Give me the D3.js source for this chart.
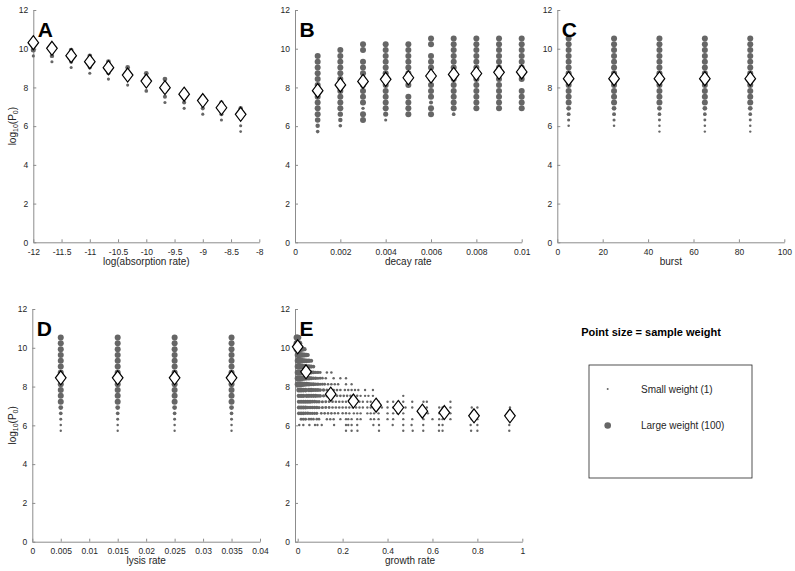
<!DOCTYPE html>
<html>
<head>
<meta charset="utf-8">
<script src="https://cdn.jsdelivr.net/npm/d3@7"></script>
<style>
body { margin: 0; background: #fff; }
text { font-family: "Liberation Sans", Arial, Helvetica, sans-serif; }
</style>
</head>
<body>
<div id="chart"></div>
<script>
// discrete log10(P0) levels used by all the samples
const levels = [5.72, 6.02, 6.32, 6.62, 6.92, 7.22, 7.52, 7.82, 8.12, 8.43, 8.73, 9.03, 9.33, 9.63, 9.93, 10.23, 10.53];
const yTicks = [0, 2, 4, 6, 8, 10, 12];

// A: log(absorption rate)
const aX = [-12, -11.67, -11.33, -11, -10.67, -10.33, -10, -9.67, -9.33, -9, -8.67, -8.33];
const aMean = [10.31, 10.02, 9.64, 9.33, 9.02, 8.64, 8.33, 7.99, 7.65, 7.32, 6.95, 6.61];
const aDots = [
    [-12, 9.93, 60], [-12, 9.63, 10],
    [-11.67, 9.63, 40], [-11.67, 9.33, 10],
    [-11.33, 9.93, 50], [-11.33, 9.33, 30], [-11.33, 9.03, 10],
    [-11, 9.63, 50], [-11, 9.03, 30], [-11, 8.73, 10],
    [-10.67, 9.33, 50], [-10.67, 8.73, 30], [-10.67, 8.43, 10],
    [-10.33, 9.03, 50], [-10.33, 8.43, 30], [-10.33, 8.12, 10],
    [-10, 8.73, 50], [-10, 8.12, 30], [-10, 7.82, 20],
    [-9.67, 8.43, 50], [-9.67, 7.52, 30], [-9.67, 7.22, 10],
    [-9.33, 7.82, 40], [-9.33, 7.22, 30], [-9.33, 6.92, 10],
    [-9, 7.52, 40], [-9, 6.92, 30], [-9, 6.62, 10],
    [-8.67, 7.22, 40], [-8.67, 6.62, 30], [-8.67, 6.32, 10],
    [-8.33, 6.92, 40], [-8.33, 6.02, 10], [-8.33, 5.72, 5]
];

// B: decay rate (weights per level, bottom to top)
const bX = [0.001, 0.002, 0.003, 0.004, 0.005, 0.006, 0.007, 0.008, 0.009, 0.01];
const bMean = [7.83, 8.13, 8.31, 8.42, 8.5, 8.59, 8.67, 8.72, 8.78, 8.8];
const bWeights = [
    [20, 40, 80, 100, 100, 100, 100, 100, 100, 100, 100, 100, 100, 100, 0, 0, 0],
    [0, 20, 40, 70, 100, 100, 100, 100, 100, 100, 100, 100, 100, 100, 100, 0, 0],
    [0, 0, 100, 100, 15, 100, 100, 100, 100, 100, 100, 100, 100, 0, 100, 100, 0],
    [0, 0, 10, 60, 100, 100, 100, 100, 100, 100, 100, 100, 100, 100, 100, 100, 0],
    [0, 0, 0, 100, 100, 100, 100, 0, 100, 100, 100, 100, 100, 100, 100, 100, 0],
    [0, 0, 0, 100, 100, 30, 100, 100, 100, 100, 100, 100, 100, 100, 0, 100, 100],
    [0, 0, 0, 20, 100, 100, 100, 100, 100, 100, 100, 100, 100, 100, 100, 100, 100],
    [0, 0, 0, 0, 100, 100, 100, 100, 100, 100, 100, 100, 100, 100, 100, 100, 100],
    [0, 0, 0, 0, 100, 100, 100, 100, 100, 100, 100, 100, 100, 100, 100, 100, 100],
    [0, 0, 0, 0, 100, 100, 100, 100, 0, 100, 100, 100, 100, 100, 100, 100, 100]
];

// C: burst
const cX = [5, 25, 45, 65, 85];
const cMean = [8.45, 8.45, 8.45, 8.45, 8.45];
const cWeights = [
    [0, 3, 10, 25, 50, 100, 100, 100, 100, 100, 100, 100, 100, 100, 100, 100, 100],
    [0, 3, 10, 25, 50, 100, 100, 100, 100, 100, 100, 100, 100, 100, 100, 100, 100],
    [2, 3, 8, 20, 50, 100, 100, 100, 100, 100, 100, 100, 100, 100, 100, 100, 100],
    [2, 3, 8, 20, 50, 100, 100, 100, 100, 100, 100, 100, 100, 100, 100, 100, 100],
    [2, 3, 8, 20, 50, 100, 100, 100, 100, 100, 100, 100, 100, 100, 100, 100, 100]
];

// D: lysis rate
const dX = [0.005, 0.015, 0.025, 0.035];
const dMean = [8.45, 8.45, 8.45, 8.45];
const dWeights = [
    [2, 3, 8, 20, 50, 100, 100, 100, 100, 100, 100, 100, 100, 100, 100, 100, 100],
    [2, 3, 8, 20, 50, 100, 100, 100, 100, 100, 100, 100, 100, 100, 100, 100, 100],
    [2, 3, 8, 20, 50, 100, 100, 100, 100, 100, 100, 100, 100, 100, 100, 100, 100],
    [2, 3, 8, 20, 50, 100, 100, 100, 100, 100, 100, 100, 100, 100, 100, 100, 100]
];

// E: growth rate, rows of [x, weight] per level index
const eMeanX = [0.0, 0.037, 0.147, 0.248, 0.349, 0.448, 0.555, 0.653, 0.785, 0.945];
const eMeanY = [10.05, 8.76, 7.61, 7.25, 7.04, 6.92, 6.73, 6.66, 6.49, 6.49];
const eRows = [
    [16, [[-0.005, 100], [0.0, 100], [0.005, 60]]],
    [15, [[-0.005, 100], [0.0, 100], [0.005, 100], [0.01, 50]]],
    [14, [[-0.005, 100], [0.0, 100], [0.005, 100], [0.01, 100], [0.02, 60], [0.03, 40]]],
    [13, [[0.0, 100], [0.005, 100], [0.01, 100], [0.02, 80], [0.03, 60], [0.04, 40], [0.045, 30]]],
    [12, [[0.0, 100], [0.005, 100], [0.01, 100], [0.02, 80], [0.03, 60], [0.04, 50], [0.05, 40], [0.06, 30]]],
    [11, [[0.0, 100], [0.005, 100], [0.01, 100], [0.02, 80], [0.03, 60], [0.04, 50], [0.05, 40], [0.06, 30], [0.07, 20]]],
    [10, [[0.0, 100], [0.01, 100], [0.02, 80], [0.03, 60], [0.04, 50], [0.05, 40], [0.06, 30], [0.07, 20], [0.08, 15], [0.09, 10], [0.1, 8], [0.13, 3], [0.15, 3]]],
    [9, [[0.0, 100], [0.01, 100], [0.02, 80], [0.03, 60], [0.04, 50], [0.05, 40], [0.06, 30], [0.07, 20], [0.08, 15], [0.09, 10], [0.1, 8], [0.11, 5], [0.125, 4], [0.16, 3], [0.19, 2], [0.215, 2]]],
    [8, [[0.0, 100], [0.01, 100], [0.02, 80], [0.03, 60], [0.04, 50], [0.05, 40], [0.06, 30], [0.07, 25], [0.08, 20], [0.09, 15], [0.1, 10], [0.11, 8], [0.12, 6], [0.135, 5], [0.15, 4], [0.165, 3], [0.18, 3], [0.215, 2], [0.24, 2]]],
    [7, [[0.005, 60], [0.015, 60], [0.025, 50], [0.035, 50], [0.05, 40], [0.06, 40], [0.07, 30], [0.08, 30], [0.09, 25], [0.1, 20], [0.115, 15], [0.13, 10], [0.145, 8], [0.16, 6], [0.175, 5], [0.19, 4], [0.21, 3], [0.225, 3], [0.24, 3], [0.255, 2], [0.27, 2], [0.3, 2], [0.335, 2]]],
    [6, [[0.005, 40], [0.015, 40], [0.025, 40], [0.04, 40], [0.05, 35], [0.06, 35], [0.07, 30], [0.08, 30], [0.09, 25], [0.1, 20], [0.115, 15], [0.13, 12], [0.145, 10], [0.16, 8], [0.175, 6], [0.19, 5], [0.205, 4], [0.22, 4], [0.235, 3], [0.25, 3], [0.265, 3], [0.28, 2], [0.3, 2], [0.315, 2], [0.335, 2], [0.47, 2]]],
    [5, [[0.005, 30], [0.015, 30], [0.025, 30], [0.035, 30], [0.045, 25], [0.055, 25], [0.065, 20], [0.075, 20], [0.085, 15], [0.095, 15], [0.11, 10], [0.125, 8], [0.14, 6], [0.155, 5], [0.17, 4], [0.185, 4], [0.2, 3], [0.215, 3], [0.23, 3], [0.245, 3], [0.26, 2], [0.275, 2], [0.29, 2], [0.31, 2], [0.325, 2], [0.345, 2], [0.36, 2], [0.4, 2], [0.425, 2], [0.45, 2], [0.47, 2], [0.51, 2], [0.56, 2], [0.575, 2], [0.68, 2]]],
    [4, [[0.005, 30], [0.015, 30], [0.025, 25], [0.035, 25], [0.045, 20], [0.055, 20], [0.065, 20], [0.075, 15], [0.085, 15], [0.095, 12], [0.11, 10], [0.125, 8], [0.14, 6], [0.155, 5], [0.17, 4], [0.185, 4], [0.2, 3], [0.215, 3], [0.23, 3], [0.245, 3], [0.26, 3], [0.275, 2], [0.29, 2], [0.31, 2], [0.325, 2], [0.34, 2], [0.36, 2], [0.375, 2], [0.4, 2], [0.425, 2], [0.44, 2], [0.46, 2], [0.48, 2], [0.51, 2], [0.56, 2], [0.575, 2], [0.63, 2], [0.645, 2], [0.68, 2], [0.775, 2], [0.8, 2], [0.945, 2]]],
    [3, [[0.005, 20], [0.015, 20], [0.025, 20], [0.035, 15], [0.045, 15], [0.055, 12], [0.065, 12], [0.075, 10], [0.085, 10], [0.105, 6], [0.12, 5], [0.135, 4], [0.15, 4], [0.165, 3], [0.18, 3], [0.2, 3], [0.215, 3], [0.23, 2], [0.25, 2], [0.265, 2], [0.28, 2], [0.31, 2], [0.325, 2], [0.34, 2], [0.36, 2], [0.4, 2], [0.425, 2], [0.445, 2], [0.47, 2], [0.56, 2], [0.58, 2], [0.63, 2], [0.645, 2], [0.68, 2]]],
    [2, [[0.015, 8], [0.025, 8], [0.035, 8], [0.05, 6], [0.06, 6], [0.07, 5], [0.085, 5], [0.095, 4], [0.13, 3], [0.145, 3], [0.16, 3], [0.19, 2], [0.215, 2], [0.225, 2], [0.24, 2], [0.265, 2], [0.28, 2], [0.325, 2], [0.34, 2], [0.36, 2], [0.4, 2], [0.425, 2], [0.47, 2], [0.51, 2], [0.56, 2], [0.6, 2], [0.63, 2], [0.645, 2], [0.68, 2], [0.775, 2], [0.8, 2]]],
    [1, [[0.007, 3], [0.025, 3], [0.052, 3], [0.077, 2], [0.088, 2], [0.107, 2], [0.162, 2], [0.215, 2], [0.225, 2], [0.24, 2], [0.265, 2], [0.337, 2], [0.362, 2], [0.423, 2], [0.47, 2], [0.507, 2], [0.559, 2], [0.629, 2], [0.645, 2], [0.77, 2], [0.8, 2], [0.942, 2]]],
    [0, [[0.215, 2], [0.24, 2], [0.266, 2], [0.362, 2], [0.47, 2], [0.512, 2], [0.559, 2], [0.629, 2], [0.645, 2], [0.772, 2], [0.8, 2], [0.942, 2]]]
];

// legend
const legendWeights = [1, 100];
const legendLabels = ["Small weight (1)", "Large weight (100)"];

const dotColor = "#666666";
const textColor = "#262626";

const svg = d3.select("#chart").append("svg")
    .attr("width", 795)
    .attr("height", 571);

const rScale = d3.scaleSqrt().domain([1, 100]).range([1.1, 3.0]);

function gridToPoints(xs, weights) {
    const pts = [];
    xs.forEach((x, i) => {
        weights[i].forEach((w, k) => {
            if (w > 0) pts.push({ x: x, y: levels[k], w: w });
        });
    });
    return pts;
}

function drawPanel(cfg) {
    const g = svg.append("g");

    const x = d3.scaleLinear().domain(cfg.xDomain).range([cfg.left, cfg.right]);
    const y = d3.scaleLinear().domain([0, 12]).range([cfg.bottom, cfg.top]);

    const xAxis = g.append("g")
        .attr("transform", "translate(0," + cfg.bottom + ")")
        .call(d3.axisBottom(x).tickValues(cfg.xTicks).tickFormat(d => String(+d.toFixed(4)).replace("-", "-"))
            .tickSizeInner(-3).tickSizeOuter(0).tickPadding(6.5));

    const yAxis = g.append("g")
        .attr("transform", "translate(" + cfg.left + ",0)")
        .call(d3.axisLeft(y).tickValues(yTicks).tickSizeInner(-3).tickSizeOuter(0).tickPadding(5));

    [xAxis, yAxis].forEach(a => {
        a.select(".domain").attr("stroke", "#8c8c8c").attr("stroke-width", 1);
        a.selectAll(".tick line").attr("stroke", "#8c8c8c");
        a.selectAll(".tick text").attr("fill", textColor).attr("font-size", "8.5px")
            .attr("font-family", "Liberation Sans, Arial, sans-serif");
    });
    if (cfg.xStart !== undefined) {
        xAxis.select(".domain").attr("d", "M" + cfg.xStart + ",0H" + cfg.right);
    }

    // axis label
    g.append("text")
        .attr("x", (x(cfg.xTicks[0]) + cfg.right) / 2)
        .attr("y", cfg.bottom + 22.5)
        .attr("text-anchor", "middle")
        .attr("font-size", "10px")
        .attr("fill", textColor)
        .text(cfg.xLabel);

    if (cfg.yLabel) {
        const yl = g.append("text")
            .attr("transform", "translate(15.5," + ((cfg.top + cfg.bottom) / 2) + ") rotate(-90)")
            .attr("text-anchor", "middle")
            .attr("font-size", "10px")
            .attr("fill", textColor);
        yl.append("tspan").text("log");
        yl.append("tspan").attr("font-size", "7px").attr("dy", 2.5).text("10");
        yl.append("tspan").attr("dy", -2.5).text("(P");
        yl.append("tspan").attr("font-size", "7px").attr("dy", 2.5).text("0");
        yl.append("tspan").attr("dy", -2.5).text(")");
    }

    // samples
    g.append("g").selectAll("circle")
        .data(cfg.points)
        .join("circle")
        .attr("cx", d => x(d.x))
        .attr("cy", d => y(d.y))
        .attr("r", d => rScale(d.w))
        .attr("fill", dotColor);

    // weighted means
    const dw = 5.3, dh = 7;
    g.append("g").selectAll("path")
        .data(cfg.means)
        .join("path")
        .attr("d", d => {
            const cx = x(d[0]), cy = y(d[1]);
            return "M" + cx + "," + (cy - dh) + "L" + (cx + dw) + "," + cy + "L" + cx + "," + (cy + dh) + "L" + (cx - dw) + "," + cy + "Z";
        })
        .attr("fill", "#fff")
        .attr("stroke", "#000")
        .attr("stroke-width", 1.2);

    // panel letter
    g.append("text")
        .attr("x", cfg.left + 4.5)
        .attr("y", cfg.top + 27)
        .attr("font-size", "21px")
        .attr("font-weight", "bold")
        .attr("fill", "#000")
        .text(cfg.letter);
}

drawPanel({
    letter: "A", left: 33.3, right: 259.3, top: 10, bottom: 242.3,
    xDomain: [-12, -8], xTicks: [-12, -11.5, -11, -10.5, -10, -9.5, -9, -8.5, -8],
    xLabel: "log(absorption rate)", yLabel: true,
    points: aDots.map(d => ({ x: d[0], y: d[1], w: d[2] })),
    means: aX.map((v, i) => [v, aMean[i]])
});

drawPanel({
    letter: "B", left: 295, right: 521.7, top: 10, bottom: 242.3,
    xDomain: [0, 0.01], xTicks: [0, 0.002, 0.004, 0.006, 0.008, 0.01],
    xLabel: "decay rate",
    points: gridToPoints(bX, bWeights),
    means: bX.map((v, i) => [v, bMean[i]])
});

drawPanel({
    letter: "C", left: 557.3, right: 784.3, top: 10, bottom: 242.3,
    xDomain: [0, 100], xTicks: [0, 20, 40, 60, 80, 100],
    xLabel: "burst",
    points: gridToPoints(cX, cWeights),
    means: cX.map((v, i) => [v, cMean[i]])
});

drawPanel({
    letter: "D", left: 32.3, right: 260, top: 309, bottom: 541.7,
    xDomain: [0, 0.04], xTicks: [0, 0.005, 0.01, 0.015, 0.02, 0.025, 0.03, 0.035, 0.04],
    xLabel: "lysis rate", yLabel: true,
    points: gridToPoints(dX, dWeights),
    means: dX.map((v, i) => [v, dMean[i]])
});

const ePoints = [];
eRows.forEach(row => {
    row[1].forEach(p => ePoints.push({ x: p[0], y: levels[row[0]], w: p[1] }));
});

drawPanel({
    letter: "E", left: 295, right: 522.3, top: 309, bottom: 541.7,
    xDomain: [-0.012, 1], xTicks: [0, 0.2, 0.4, 0.6, 0.8, 1],
    xLabel: "growth rate",
    points: ePoints,
    means: eMeanX.map((v, i) => [v, eMeanY[i]])
});

// legend
svg.append("text")
    .attr("x", 651)
    .attr("y", 336)
    .attr("text-anchor", "middle")
    .attr("font-size", "11px")
    .attr("font-weight", "bold")
    .attr("fill", "#000")
    .text("Point size = sample weight");

svg.append("rect")
    .attr("x", 589)
    .attr("y", 365)
    .attr("width", 163)
    .attr("height", 113)
    .attr("fill", "#fff")
    .attr("stroke", "#262626")
    .attr("stroke-width", 0.8);

const legendY = d3.scalePoint().domain(legendLabels).range([389, 425.5]);

svg.append("g").selectAll("circle")
    .data(legendWeights)
    .join("circle")
    .attr("cx", 607.7)
    .attr("cy", (d, i) => legendY(legendLabels[i]))
    .attr("r", d => d === 1 ? 1 : 3.3)
    .attr("fill", dotColor);

svg.append("g").selectAll("text")
    .data(legendLabels)
    .join("text")
    .attr("x", 641)
    .attr("y", d => legendY(d) + 3.5)
    .attr("font-size", "10px")
    .attr("fill", textColor)
    .text(d => d);
</script>
</body>
</html>
